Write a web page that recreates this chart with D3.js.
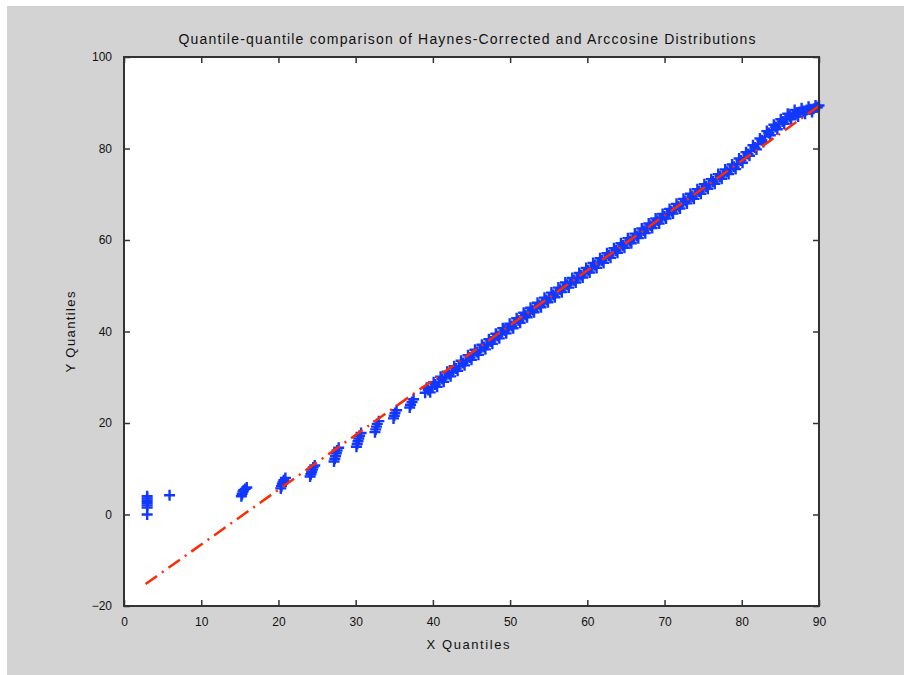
<!DOCTYPE html>
<html>
<head>
<meta charset="utf-8">
<script src="https://cdn.jsdelivr.net/npm/d3@7"></script>
<style>
  body { margin: 0; background: #fff; }
  text { font-family: "Liberation Sans", Arial, sans-serif; fill: #111; }
</style>
</head>
<body>
<div id="chart"></div>
<script>
(function () {

  // quantile pairs (X quantiles / Y quantiles)
  const qqX = [
    3.0, 3.0, 3.0, 3.0, 3.0, 3.0, 3.0, 5.9,
    15.2, 15.3, 15.4, 15.5, 15.7, 15.9,
    20.3, 20.4, 20.5, 20.6, 20.7, 20.9,
    24.1, 24.2, 24.3, 24.4, 24.5, 24.7,
    27.2, 27.3, 27.4, 27.5, 27.6, 27.8,
    30.1, 30.2, 30.3, 30.4, 30.5, 30.7,
    32.5, 32.6, 32.7, 32.8, 33.0,
    34.9, 35.0, 35.1, 35.3,
    37.0, 37.1, 37.3, 37.5,
    39.0, 39.4, 39.9, 40.3, 40.8, 41.2, 41.6, 42.1, 42.5, 43.0,
    43.4, 43.9, 44.3, 44.8, 45.2, 45.7, 46.1, 46.6, 47.0, 47.5,
    47.9, 48.4, 48.8, 49.3, 49.7, 50.2, 50.6, 51.1, 51.5, 52.0,
    52.4, 52.9, 53.3, 53.8, 54.2, 54.7, 55.1, 55.6, 56.0, 56.5,
    56.9, 57.4, 57.8, 58.3, 58.7, 59.2, 59.6, 60.1, 60.5, 61.0,
    61.4, 61.9, 62.3, 62.8, 63.2, 63.7, 64.1, 64.6, 65.0, 65.5,
    65.9, 66.4, 66.8, 67.3, 67.7, 68.2, 68.6, 69.1, 69.5, 70.0,
    70.4, 70.9, 71.3, 71.8, 72.2, 72.7, 73.1, 73.6, 74.0, 74.5,
    74.9, 75.4, 75.8, 76.3, 76.7, 77.2, 77.6, 78.1, 78.5, 79.0,
    79.4, 79.9, 80.3, 80.8, 81.2, 81.7, 82.1, 82.6, 83.0, 83.5,
    83.9, 84.4, 84.8, 85.3, 85.7, 86.2, 86.6, 87.1, 87.5, 88.0,
    88.4, 88.9, 89.3, 89.6, 89.8, 90.0
  ];
  const qqY = [
    0.0, 1.5, 2.0, 2.5, 3.0, 3.5, 4.0, 4.2,
    4.0, 4.5, 5.0, 5.3, 5.6, 5.9,
    5.7, 6.2, 6.7, 7.1, 7.5, 8.0,
    8.3, 8.8, 9.3, 9.8, 10.3, 10.7,
    11.6, 12.2, 12.8, 13.4, 14.0, 14.6,
    14.8, 15.4, 16.0, 16.6, 17.2, 17.8,
    18.0, 18.6, 19.2, 19.8, 20.4,
    21.0, 21.6, 22.2, 22.8,
    23.4, 24.0, 24.6, 25.2,
    26.6, 27.2, 27.8, 28.4, 29.0, 29.6, 30.0, 30.7, 31.2, 31.9,
    32.4, 33.1, 33.6, 34.3, 34.8, 35.5, 35.9, 36.6, 37.1, 37.8,
    38.3, 39.0, 39.5, 40.2, 40.6, 41.2, 41.8, 42.4, 42.9, 43.6,
    44.1, 44.7, 45.2, 45.8, 46.3, 46.9, 47.4, 48.0, 48.5, 49.1,
    49.6, 50.2, 50.6, 51.2, 51.7, 52.3, 52.8, 53.4, 53.9, 54.5,
    54.9, 55.5, 56.0, 56.6, 57.1, 57.7, 58.2, 58.8, 59.3, 59.8,
    60.3, 60.9, 61.4, 62.0, 62.5, 63.1, 63.6, 64.2, 64.6, 65.2,
    65.7, 66.3, 66.8, 67.4, 67.9, 68.5, 69.0, 69.5, 70.0, 70.6,
    71.1, 71.7, 72.2, 72.8, 73.3, 73.9, 74.3, 74.9, 75.4, 76.0,
    76.6, 77.4, 78.0, 78.8, 79.5, 80.2, 81.0, 81.8, 82.6, 83.4,
    84.0, 84.7, 85.3, 85.9, 86.5, 87.0, 87.4, 87.7, 88.0, 88.2,
    88.4, 88.6, 88.7, 89.0, 89.0, 89.4
  ];

  // the steps in between, which make the band look solid
  const bandX = [
    39.2, 39.65, 40.1, 40.55, 41.0, 41.4, 41.85, 42.3, 42.75, 43.2,
    43.65, 44.1, 44.55, 45.0, 45.45, 45.9, 46.35, 46.8, 47.25, 47.7,
    48.15, 48.6, 49.05, 49.5, 49.95, 50.4, 50.85, 51.3, 51.75, 52.2,
    52.65, 53.1, 53.55, 54.0, 54.45, 54.9, 55.35, 55.8, 56.25, 56.7,
    57.15, 57.6, 58.05, 58.5, 58.95, 59.4, 59.85, 60.3, 60.75, 61.2,
    61.65, 62.1, 62.55, 63.0, 63.45, 63.9, 64.35, 64.8, 65.25, 65.7,
    66.15, 66.6, 67.05, 67.5, 67.95, 68.4, 68.85, 69.3, 69.75, 70.2,
    70.65, 71.1, 71.55, 72.0, 72.45, 72.9, 73.35, 73.8, 74.25, 74.7,
    75.15, 75.6, 76.05, 76.5, 76.95, 77.4, 77.85, 78.3, 78.75, 79.2,
    79.65, 80.1, 80.55, 81.0, 81.45, 81.9, 82.35, 82.8, 83.25, 83.7,
    84.15, 84.6, 85.05, 85.5, 85.95, 86.4, 86.85, 87.3, 87.75, 88.2,
    88.65, 89.1, 89.55
  ];
  const bandY = [
    27.7, 26.7, 28.9, 27.9, 30.1, 29.0, 31.2, 30.2, 32.4, 31.4,
    33.6, 32.6, 34.8, 33.8, 36.0, 34.9, 37.1, 36.1, 38.3, 37.3,
    39.5, 38.5, 40.7, 39.6, 41.7, 40.7, 42.9, 41.9, 44.1, 43.1,
    45.2, 44.2, 46.3, 45.3, 47.4, 46.4, 48.5, 47.5, 49.6, 48.6,
    50.7, 49.6, 51.7, 50.7, 52.8, 51.8, 53.9, 52.9, 55.0, 53.9,
    56.0, 55.0, 57.1, 56.1, 58.2, 57.2, 59.3, 58.3, 60.4, 59.3,
    61.4, 60.4, 62.5, 61.5, 63.6, 62.6, 64.7, 63.6, 65.7, 64.7,
    66.8, 65.8, 67.9, 66.9, 69.0, 68.0, 70.1, 69.0, 71.1, 70.1,
    72.2, 71.2, 73.3, 72.3, 74.4, 73.4, 75.4, 74.4, 76.5, 75.5,
    77.8, 76.9, 79.2, 78.4, 80.7, 79.8, 82.2, 81.4, 83.8, 82.9,
    85.2, 84.2, 86.4, 85.4, 87.6, 86.4, 88.4, 87.0, 88.8, 87.6,
    89.1, 88.0, 89.4
  ];

  // reference line end points
  const refX = [2.8, 90.0];
  const refY = [-15.2, 89.3];

  // tick labels
  const xTicks = [0, 10, 20, 30, 40, 50, 60, 70, 80, 90];
  const yTicks = [-20, 0, 20, 40, 60, 80, 100];

  const title = 'Quantile-quantile comparison of Haynes-Corrected and Arccosine Distributions';

  //////////////////////////////////////////////////////////////////////////////

  const width = 904;
  const height = 675;
  const plot = { left: 124, right: 819, top: 57, bottom: 606 };

  const svg = d3.select('#chart').append('svg')
    .attr('width', width)
    .attr('height', height);

  // figure background
  svg.append('rect')
    .attr('x', 7).attr('y', 6)
    .attr('width', width - 7).attr('height', height - 6)
    .attr('fill', '#d3d3d3');

  svg.append('rect')
    .attr('x', plot.left).attr('y', plot.top)
    .attr('width', plot.right - plot.left).attr('height', plot.bottom - plot.top)
    .attr('fill', '#fff');

  const xScale = d3.scaleLinear().domain([0, 90]).range([plot.left, plot.right]);
  const yScale = d3.scaleLinear().domain([-20, 100]).range([plot.bottom, plot.top]);

  svg.append('clipPath').attr('id', 'plotclip')
    .append('rect')
    .attr('x', plot.left).attr('y', plot.top)
    .attr('width', plot.right - plot.left + 6).attr('height', plot.bottom - plot.top);

  const marks = svg.append('g').attr('clip-path', 'url(#plotclip)');

  // data as '+' markers
  const points = d3.zip(qqX, qqY).concat(d3.zip(bandX, bandY));
  marks.selectAll('path.pt')
    .data(points)
    .enter()
    .append('path')
    .attr('class', 'pt')
    .attr('d', 'M-5.5,0H5.5M0,-5.5V5.5')
    .attr('transform', (d) => `translate(${xScale(d[0])},${yScale(d[1])})`)
    .attr('stroke', '#1238ff')
    .attr('stroke-width', 2.4)
    .attr('fill', 'none');

  // red dash-dot reference line
  const line = d3.line()
    .x((d) => xScale(d[0]))
    .y((d) => yScale(d[1]));

  marks.append('path')
    .datum(d3.zip(refX, refY))
    .attr('d', line)
    .attr('fill', 'none')
    .attr('stroke', '#ff2a00')
    .attr('stroke-width', 2.5)
    .attr('stroke-dasharray', '14,6,2,6');

  // axes, ticks pointing inward on all four sides
  const axisColor = '#333';

  const bottom = svg.append('g')
    .attr('transform', `translate(0,${plot.bottom})`)
    .call(d3.axisBottom(xScale).tickValues(xTicks).tickSize(-6).tickPadding(11).tickFormat(d3.format('d')));
  const left = svg.append('g')
    .attr('transform', `translate(${plot.left},0)`)
    .call(d3.axisLeft(yScale).tickValues(yTicks).tickSize(-6).tickPadding(12).tickFormat(d3.format('d')));
  const top = svg.append('g')
    .attr('transform', `translate(0,${plot.top})`)
    .call(d3.axisTop(xScale).tickValues(xTicks).tickSize(-6).tickFormat(''));
  const right = svg.append('g')
    .attr('transform', `translate(${plot.right},0)`)
    .call(d3.axisRight(yScale).tickValues(yTicks).tickSize(-6).tickFormat(''));

  [bottom, left, top, right].forEach((g) => {
    g.select('.domain').remove();
    g.selectAll('line').attr('stroke', axisColor).attr('stroke-width', 1.5);
    g.selectAll('text')
      .style('font-family', '"Liberation Sans", Arial, sans-serif')
      .style('font-size', '12px')
      .attr('fill', '#111');
  });

  // frame
  svg.append('rect')
    .attr('x', plot.left).attr('y', plot.top)
    .attr('width', plot.right - plot.left).attr('height', plot.bottom - plot.top)
    .attr('fill', 'none')
    .attr('stroke', axisColor)
    .attr('stroke-width', 2);

  // labels
  svg.append('text')
    .attr('x', 467).attr('y', 44)
    .attr('text-anchor', 'middle')
    .attr('textLength', 577)
    .attr('lengthAdjust', 'spacing')
    .style('font-size', '14px')
    .text(title);

  svg.append('text')
    .attr('x', 468).attr('y', 649)
    .attr('text-anchor', 'middle')
    .attr('textLength', 83)
    .attr('lengthAdjust', 'spacing')
    .style('font-size', '13px')
    .text('X Quantiles');

  svg.append('text')
    .attr('transform', 'translate(75,332) rotate(-90)')
    .attr('text-anchor', 'middle')
    .attr('textLength', 81)
    .attr('lengthAdjust', 'spacing')
    .style('font-size', '13px')
    .text('Y Quantiles');

})();
</script>
</body>
</html>
